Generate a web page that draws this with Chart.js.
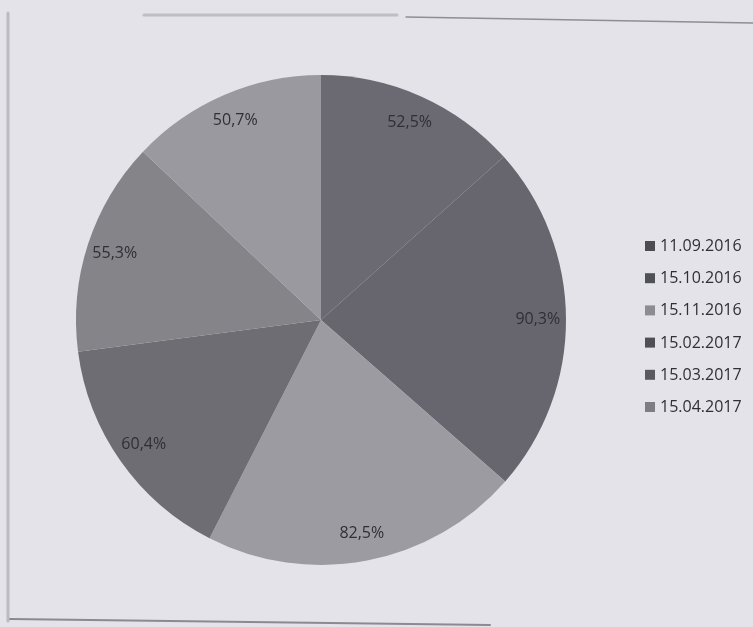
<!DOCTYPE html>
<html>
<head>
<meta charset="utf-8">
<script src="https://cdn.jsdelivr.net/npm/chart.js@4/dist/chart.umd.min.js"></script>
<style>
  html, body { margin: 0; padding: 0; background: #e4e3e9; }
  #wrap { width: 753px; height: 627px; position: relative; }
</style>
</head>
<body>
<div id="wrap"><canvas id="c"></canvas></div>
<script>
// Survey dates and the share recorded on each date (percent)
const dates = ['11.09.2016', '15.10.2016', '15.11.2016', '15.02.2017', '15.03.2017', '15.04.2017'];
const shares = [52.5, 90.3, 82.5, 60.4, 55.3, 50.7];

// Slice fills and the matching legend key fills
const sliceColors = ['#6b6a72', '#67666e', '#9c9ba1', '#6e6d73', '#858489', '#9a999f'];
const keyColors = ['#4d4c52', '#505057', '#8d8c92', '#4f4f55', '#5a5a5e', '#7d7d82'];

const FONT = '"Open Sans", "DejaVu Sans", sans-serif';
const TEXT_COLOR = '#2f2f37';
const fmt = v => v.toFixed(1).replace('.', ',') + '%';

// Page frame lines around the chart
const framePlugin = {
  id: 'frame',
  beforeDraw(chart) {
    const ctx = chart.ctx;
    ctx.save();
    ctx.lineCap = 'round';
    const seg = (x1, y1, x2, y2, color, w) => {
      ctx.strokeStyle = color; ctx.lineWidth = w;
      ctx.beginPath(); ctx.moveTo(x1, y1); ctx.lineTo(x2, y2); ctx.stroke();
    };
    seg(144, 15, 397, 15, 'rgba(180,180,186,0.8)', 3);
    seg(406, 17, 753, 23, '#8e8e94', 1.5);
    seg(8, 13, 8, 621, 'rgba(170,170,176,0.7)', 3);
    seg(10, 619, 490, 625, '#8a8a90', 2);
    ctx.restore();
  }
};

// Percentage labels near the outer edge of each slice
const sliceLabels = {
  id: 'sliceLabels',
  afterDatasetsDraw(chart) {
    const ctx = chart.ctx;
    const meta = chart.getDatasetMeta(0);
    const values = chart.data.datasets[0].data;
    ctx.save();
    ctx.font = '16px ' + FONT;
    ctx.fillStyle = TEXT_COLOR;
    ctx.textAlign = 'center';
    ctx.textBaseline = 'middle';
    meta.data.forEach((arc, i) => {
      const p = arc.getProps(['x', 'y', 'startAngle', 'endAngle', 'outerRadius'], true);
      const mid = (p.startAngle + p.endAngle) / 2;
      const r = p.outerRadius * 0.885;
      ctx.fillText(fmt(values[i]), p.x + Math.cos(mid) * r, p.y + Math.sin(mid) * r);
    });
    ctx.restore();
  }
};

// Legend column on the right
const keyList = {
  id: 'keyList',
  afterDraw(chart) {
    const ctx = chart.ctx;
    const labels = chart.data.labels;
    const x0 = 645, y0 = 246, step = 32.2;
    ctx.save();
    ctx.font = '16px ' + FONT;
    ctx.textAlign = 'left';
    ctx.textBaseline = 'middle';
    labels.forEach((lab, i) => {
      const y = y0 + i * step;
      ctx.fillStyle = keyColors[i];
      ctx.fillRect(x0, y - 5, 10, 10);
      ctx.fillStyle = TEXT_COLOR;
      ctx.fillText(lab, x0 + 15, y + 0.5);
    });
    ctx.restore();
  }
};

new Chart(document.getElementById('c'), {
  type: 'pie',
  data: {
    labels: dates,
    datasets: [{
      data: shares,
      backgroundColor: sliceColors,
      borderWidth: 0
    }]
  },
  options: {
    responsive: true,
    maintainAspectRatio: false,
    animation: false,
    layout: { padding: { left: 76, right: 187, top: 75, bottom: 62 } },
    plugins: {
      legend: { display: false },
      tooltip: { enabled: false }
    }
  },
  plugins: [framePlugin, sliceLabels, keyList]
});
</script>
</body>
</html>
